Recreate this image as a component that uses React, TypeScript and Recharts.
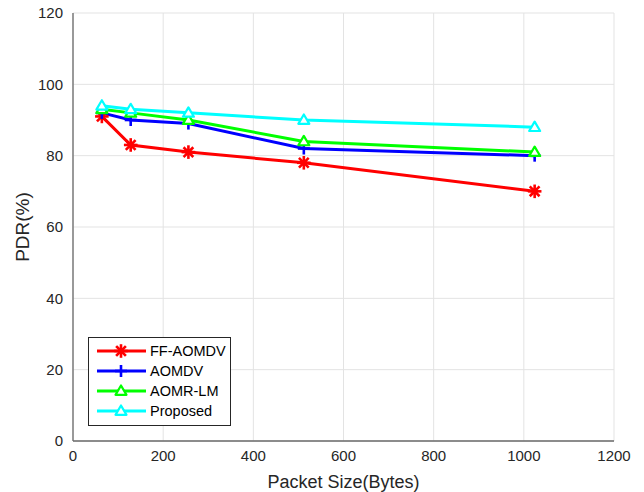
import { LineChart, Line, XAxis, YAxis, CartesianGrid, Legend } from 'recharts'

const packetSizes = [64, 128, 256, 512, 1024]
const ffAomdv = [91, 83, 81, 78, 70]
const aomdv = [92, 90, 89, 82, 80]
const aomrLm = [93, 92, 90, 84, 81]
const proposed = [94, 93, 92, 90, 88]

const xTicks = [0, 200, 400, 600, 800, 1000, 1200]
const yTicks = [0, 20, 40, 60, 80, 100, 120]

const data = packetSizes.map((size, i) => ({
  size,
  ff: ffAomdv[i],
  aomdv: aomdv[i],
  aomr: aomrLm[i],
  proposed: proposed[i],
}))

const FONT = '"Liberation Sans", Arial, sans-serif'
const AXIS = '#6a6a6a'
const TEXT = '#262626'

type Shape = 'star' | 'plus' | 'triangle'

function Marker({ cx, cy, shape, color }: { cx: number; cy: number; shape: Shape; color: string }) {
  if (shape === 'star') {
    const r = 5.5
    const d = r * 0.72
    return (
      <g stroke={color} strokeWidth={2.6} strokeLinecap="square">
        <line x1={cx - r} y1={cy} x2={cx + r} y2={cy} />
        <line x1={cx} y1={cy - r} x2={cx} y2={cy + r} />
        <line x1={cx - d} y1={cy - d} x2={cx + d} y2={cy + d} />
        <line x1={cx - d} y1={cy + d} x2={cx + d} y2={cy - d} />
        <circle cx={cx} cy={cy} r={3} fill={color} stroke="none" />
      </g>
    )
  }
  if (shape === 'plus') {
    const r = 6
    return (
      <g stroke={color} strokeWidth={2.6}>
        <line x1={cx - r} y1={cy} x2={cx + r} y2={cy} />
        <line x1={cx} y1={cy - r} x2={cx} y2={cy + r} />
      </g>
    )
  }
  const r = 5.5
  const pts = `${cx},${cy - r} ${cx + r},${cy + r * 0.7} ${cx - r},${cy + r * 0.7}`
  return <polygon points={pts} fill="#fff" stroke={color} strokeWidth={2.2} strokeLinejoin="round" />
}

const dotFor = (shape: Shape, color: string) => (props: any) => {
  const { cx, cy, index } = props
  if (cx == null || cy == null) return <g key={index} />
  return <Marker key={index} cx={cx} cy={cy} shape={shape} color={color} />
}

const seriesList: { key: string; name: string; color: string; shape: Shape }[] = [
  { key: 'ff', name: 'FF-AOMDV', color: '#ff0000', shape: 'star' },
  { key: 'aomdv', name: 'AOMDV', color: '#0000ff', shape: 'plus' },
  { key: 'aomr', name: 'AOMR-LM', color: '#00ff00', shape: 'triangle' },
  { key: 'proposed', name: 'Proposed', color: '#00ffff', shape: 'triangle' },
]

function LegendBox() {
  return (
    <div
      style={{
        border: `1px solid ${TEXT}`,
        background: '#fff',
        width: 141,
        height: 84,
        boxSizing: 'content-box',
        fontFamily: FONT,
        fontSize: 14.5,
        color: '#000',
        paddingTop: 3,
      }}
    >
      {seriesList.map(s => (
        <div key={s.key} style={{ display: 'flex', alignItems: 'center', height: 20 }}>
          <svg width={60} height={20}>
            <line x1={8} y1={10} x2={57} y2={10} stroke={s.color} strokeWidth={3} />
            <Marker cx={32} cy={10} shape={s.shape} color={s.color} />
          </svg>
          <span style={{ marginLeft: 1 }}>{s.name}</span>
        </div>
      ))}
    </div>
  )
}

// inward tick marks only, no labels
const emptyTick = () => <g />

export default function App() {
  return (
    <div style={{ position: 'absolute', left: 0, top: 0, background: '#fff' }}>
      <LineChart
        width={644}
        height={492}
        data={data}
        margin={{ top: 13, right: 30, bottom: 6, left: 0 }}
        style={{ fontFamily: FONT }}
      >
        <CartesianGrid stroke="#e3e3e3" strokeWidth={1} />
        <XAxis
          dataKey="size"
          type="number"
          domain={[0, 1200]}
          ticks={xTicks}
          height={45}
          tickLine={false}
          tickSize={6}
          tickMargin={3}
          stroke={AXIS}
          strokeWidth={1.3}
          tick={{ fill: TEXT, fontSize: 15 }}
          label={(p: any) => {
            const vb = p.viewBox
            return (
              <text x={vb.x + vb.width / 2} y={488} textAnchor="middle" fontSize={18} fill={TEXT} fontFamily={FONT}>
                Packet Size(Bytes)
              </text>
            )
          }}
        />
        <XAxis xAxisId="bottomTicks" orientation="bottom" type="number" domain={[0, 1200]} ticks={xTicks} mirror tick={emptyTick} tickSize={4} height={0} stroke={AXIS} axisLine={false} />
        <XAxis xAxisId="top" orientation="top" type="number" domain={[0, 1200]} ticks={xTicks} mirror tick={emptyTick} tickSize={4} height={0} stroke={AXIS} strokeWidth={1.3} />
        <YAxis
          type="number"
          domain={[0, 120]}
          ticks={yTicks}
          width={73}
          tickLine={false}
          tickSize={6}
          tickMargin={4}
          stroke={AXIS}
          strokeWidth={1.3}
          tick={{ fill: TEXT, fontSize: 15 }}
          label={(p: any) => {
            const vb = p.viewBox
            const x = 29
            const y = vb.y + vb.height / 2
            return (
              <text x={x} y={y} transform={`rotate(-90 ${x} ${y})`} textAnchor="middle" fontSize={19} fill={TEXT} fontFamily={FONT}>
                PDR(%)
              </text>
            )
          }}
        />
        <YAxis yAxisId="leftTicks" orientation="left" type="number" domain={[0, 120]} ticks={yTicks} mirror tick={emptyTick} tickSize={4} width={0} stroke={AXIS} axisLine={false} />
        <YAxis yAxisId="right" orientation="right" type="number" domain={[0, 120]} ticks={yTicks} mirror tick={emptyTick} tickSize={4} width={0} stroke={AXIS} strokeWidth={1.3} />
        {seriesList.map(s => (
          <Line
            key={s.key}
            dataKey={s.key}
            name={s.name}
            type="linear"
            stroke={s.color}
            strokeWidth={3}
            dot={dotFor(s.shape, s.color)}
            activeDot={false}
            isAnimationActive={false}
          />
        ))}
        <Legend
          layout="vertical"
          align="center"
          verticalAlign="middle"
          content={() => <LegendBox />}
          wrapperStyle={{ left: 88, top: 337, width: 'auto', height: 'auto' }}
        />
      </LineChart>
    </div>
  )
}
